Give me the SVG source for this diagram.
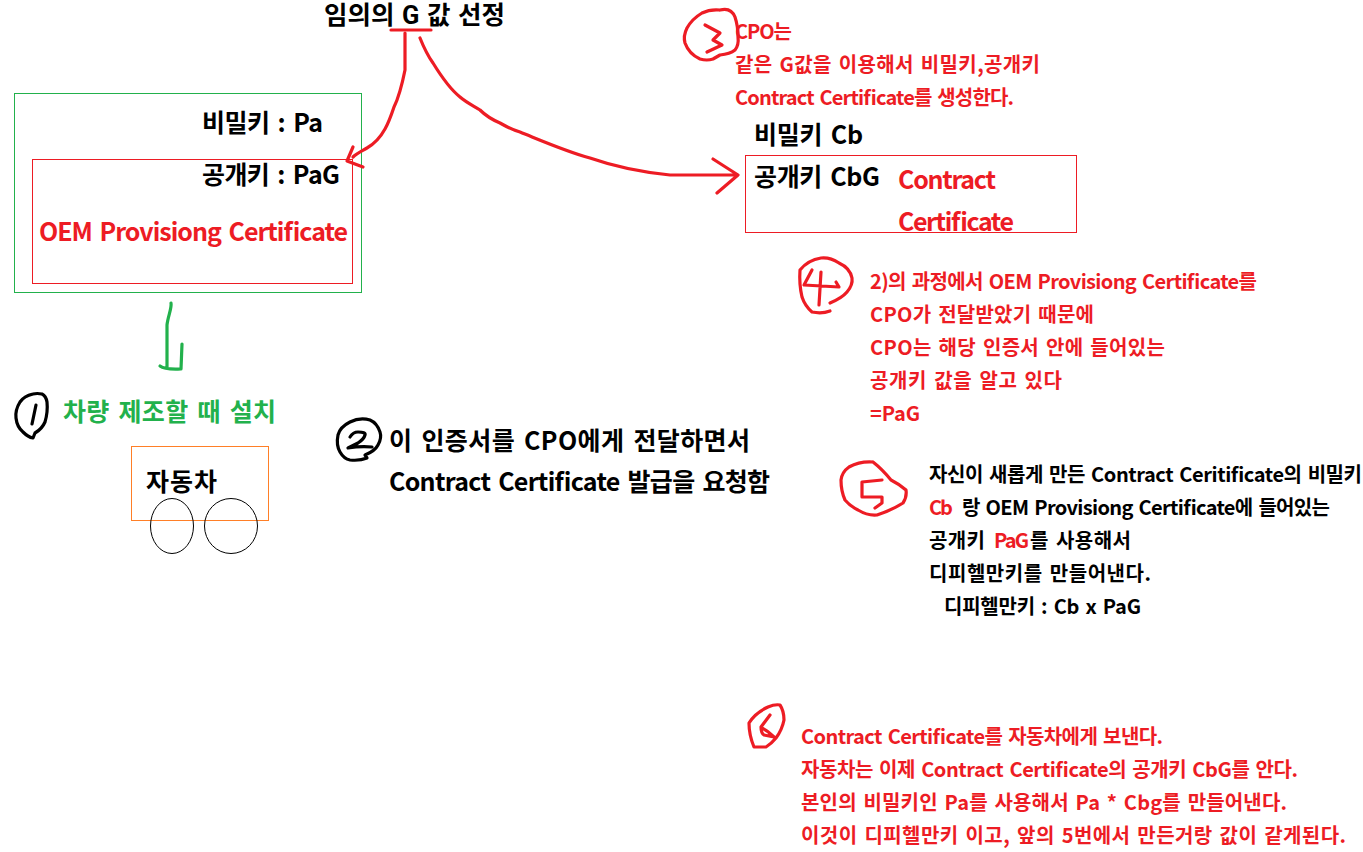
<svg xmlns="http://www.w3.org/2000/svg" width="1363" height="852" viewBox="0 0 1363 852">
<style>
text{font-family:"Noto Sans CJK KR","Noto Sans",sans-serif;font-weight:700;white-space:pre}
.t{font-family:"Roboto","Noto Sans CJK KR",sans-serif;font-size:25.5px;word-spacing:1px}
.m{font-size:25px;word-spacing:3px}
.s{font-size:20px;word-spacing:2px}
.k{fill:#000}
.r{fill:#ed1c24}
.g{fill:#22b14c}
.box{fill:none;stroke-width:1}
.ink{fill:none;stroke-linecap:round;stroke-linejoin:round;stroke-width:3.2}
.w{fill:none;stroke:#000;stroke-width:1}
</style>
<rect width="1363" height="852" fill="#fff"/>
<g id="g-title"><text class="t k" x="324" y="24" textLength="181">임의의 G 값 선정</text></g>
<g id="oem-cert">
<rect class="box" x="14.5" y="93.5" width="347" height="199" stroke="#22b14c"/>
<rect class="box" x="32.5" y="159.5" width="320" height="124" stroke="#ed1c24"/>
<text class="m k" x="202" y="132" textLength="121">비밀키 : Pa</text>
<text class="m k" x="202" y="184" textLength="138">공개키 : PaG</text>
<text class="m r" x="39" y="241" textLength="309">OEM Provisiong Certificate</text>
</g>
<g id="step1">
<path class="ink" stroke="#000" d="M33 394Q24 396 20 402Q15 410 16 418Q17 427 23 432Q28 437 33 438L35 433Q42 429 45 422Q48 412 47 402Q46 396 42 394Q37 393 33 394M36 405L32 424"/>
<text class="m g" x="63" y="421" textLength="213">차량 제조할 때 설치</text>
</g>
<g id="car">
<rect class="box" x="131.5" y="446.5" width="137" height="74" stroke="#ff7f27"/>
<ellipse class="w" cx="172" cy="526" rx="21.5" ry="27.5"/>
<ellipse class="w" cx="231" cy="526" rx="26.5" ry="27.5"/>
<text class="m k" x="146" y="491" textLength="71">자동차</text>
</g>
<g id="step2">
<path class="ink" stroke="#000" d="M350 422Q340 427 338 435Q336 445 340 452Q344 459 350 460Q360 461 367 458L365 455Q375 451 378 445Q382 438 380 432Q377 423 370 420Q360 417 350 422M350 437Q353 432 358 432Q366 432 365 435Q364 439 358 443L348 448Q360 446 372 447"/>
<text class="m k" x="389" y="450" textLength="361">이 인증서를 CPO에게 전달하면서</text>
<text class="m k" x="389" y="491" textLength="381">Contract Certificate 발급을 요청함</text>
</g>
<g id="step3">
<path class="ink" stroke="#ed1c24" d="M720 10Q710 9 702 13Q692 19 687 28Q683 36 685 43Q689 54 700 59Q707 61 713 59L720 55Q730 54 735 50Q739 45 738 37Q738 26 735 17Q731 7 720 10M705 25L720 33L713 40L722 45L707 52"/>
<text class="s r" x="735" y="39" textLength="57">CPO는</text>
<text class="s r" x="735" y="72" textLength="305">같은 G값을 이용해서 비밀키,공개키</text>
<text class="s r" x="735" y="105" textLength="279">Contract Certificate를 생성한다.</text>
</g>
<g id="contract-cert">
<text class="m k" x="754" y="144" textLength="109">비밀키 Cb</text>
<rect class="box" x="745.5" y="155.5" width="331" height="77" stroke="#ed1c24"/>
<text class="m k" x="754" y="186" textLength="126">공개키 CbG</text>
<text class="m r" x="898" y="189" textLength="98">Contract</text>
<text class="m r" x="898" y="231" textLength="116">Certificate</text>
</g>
<g id="step4">
<path class="ink" stroke="#ed1c24" d="M830 303Q842 298 847 292Q853 285 852 278Q850 268 839 263Q830 257 821 258Q808 260 800 270Q799 284 802 297Q805 306 812 312Q822 314 830 311M812 270L804 285L839 287L836 282M821 272L819 305"/>
<text class="s r" x="870" y="289" textLength="387">2)의 과정에서 OEM Provisiong Certificate를</text>
<text class="s r" x="870" y="322" textLength="224">CPO가 전달받았기 때문에</text>
<text class="s r" x="870" y="355" textLength="295">CPO는 해당 인증서 안에 들어있는</text>
<text class="s r" x="870" y="388" textLength="192">공개키 값을 알고 있다</text>
<text class="s r" x="870" y="421" textLength="50">=PaG</text>
</g>
<g id="step5">
<path class="ink" stroke="#ed1c24" d="M873 462Q860 461 849 467Q842 472 841 480Q841 491 845 500Q850 506 858 510Q868 516 877 515Q892 510 903 503Q907 497 906 490Q899 484 891 480Q882 469 873 462M882 480L862 482L862 497L882 497L882 503L875 508"/>
<text class="s k" x="929" y="482" textLength="433">자신이 새롭게 만든 Contract Ceritificate의 비밀키</text>
<text class="s r" x="929" y="515" textLength="24">Cb</text>
<text class="s k" x="962" y="515" textLength="368">랑 OEM Provisiong Certificate에 들어있는</text>
<text class="s k" x="929" y="548" textLength="56">공개키</text>
<text class="s r" x="994" y="548" textLength="35">PaG</text>
<text class="s k" x="1030" y="548" textLength="101">를 사용해서</text>
<text class="s k" x="929" y="581" textLength="222">디피헬만키를 만들어낸다.</text>
<text class="s k" x="944" y="614" textLength="197">디피헬만키 : Cb x PaG</text>
</g>
<g id="step6">
<path class="ink" stroke="#ed1c24" d="M768 707Q775 704 780 705Q784 711 784 720Q782 730 776 738Q771 744 766 747L754 747Q749 735 749 723Q755 713 768 707M770 715L761 727Q761 733 764 735L774 737Q768 731 762 728"/>
<text class="s r" x="801" y="744" textLength="362">Contract Certificate를 자동차에게 보낸다.</text>
<text class="s r" x="801" y="777" textLength="497">자동차는 이제 Contract Certificate의 공개키 CbG를 안다.</text>
<text class="s r" x="801" y="810" textLength="486">본인의 비밀키인 Pa를 사용해서 Pa * Cbg를 만들어낸다.</text>
<text class="s r" x="801" y="843" textLength="545">이것이 디피헬만키 이고, 앞의 5번에서 만든거랑 값이 같게된다.</text>
</g>
<g id="connectors">
<path class="ink" stroke="#ed1c24" d="M391 30L431 30"/>
<path class="ink" stroke="#ed1c24" d="M405 33L405 70C402 85 399 97 394 107C391 116 389 122 385 129C380 138 374 144 367 148C362 151 357 153 353 157M353 147L347 161L363 167"/>
<path class="ink" stroke="#ed1c24" d="M420 38C424 48 428 56 433 63C441 76 450 89 460 97C467 103 474 106 480 110C487 117 493 120 500 123C507 127 513 130 520 132C540 140 565 151 590 158C610 165 640 172 670 175L736 175M713 159L738 175L717 193"/>
<path class="ink" stroke="#22b14c" d="M171 303C172 308 168 316 167 325L167 367M160 366C165 370 175 369 181 369L182 344"/>
</g>
</svg>
